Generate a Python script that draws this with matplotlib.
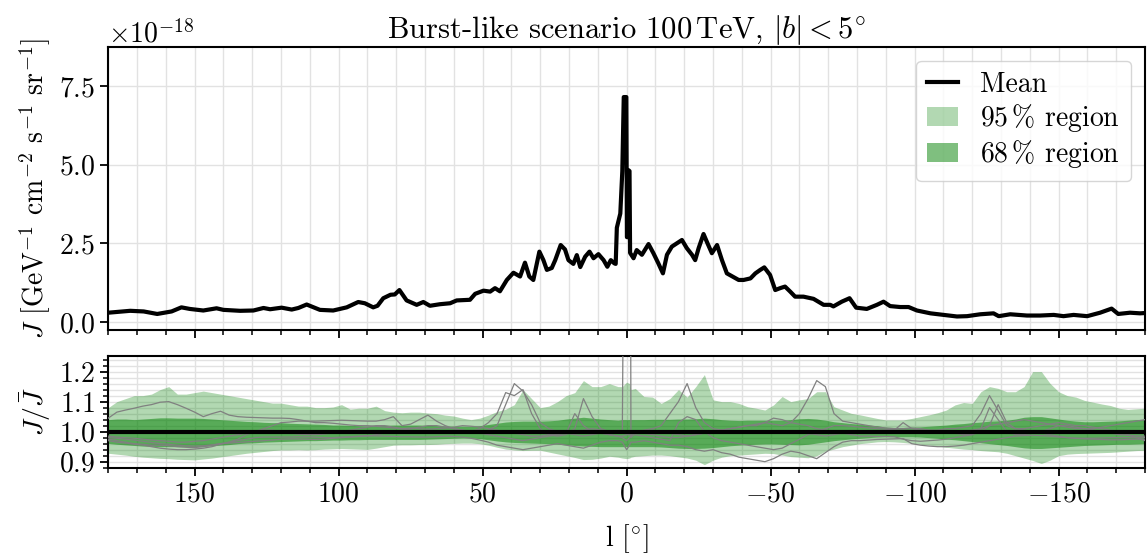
import numpy as np
import matplotlib
matplotlib.use("Agg")
import matplotlib.pyplot as plt
from matplotlib.patches import Patch
from matplotlib.lines import Line2D
from matplotlib.ticker import MultipleLocator

plt.rcParams.update({
    "font.family": "serif",
    "font.serif": ["cmr10"],
    "mathtext.fontset": "cm",
    "axes.formatter.use_mathtext": True,
    "font.size": 20,
    "axes.linewidth": 1.5,
    "xtick.major.width": 1.3,
    "ytick.major.width": 1.3,
    "xtick.minor.width": 1.1,
    "ytick.minor.width": 1.1,
    "xtick.major.size": 6,
    "ytick.major.size": 6,
    "xtick.minor.size": 3.5,
    "ytick.minor.size": 3.5,
})

UNIT = 1e-18

# ---- mean flux along the plane (units of 1e-18 GeV^-1 cm^-2 s^-1 sr^-1)
l_mean = [180, 176, 172.4, 167.7, 163, 158, 154.6, 151.7, 147, 142.4,
          140, 134.2, 129.6, 126.1, 123.8, 119.8, 116.3, 114, 111.1, 106.5,
          101.9, 97.2, 93.2, 90.9, 88, 86.5, 84.5, 82, 80.5, 78.9,
          76.4, 72.9, 70.6, 68.3, 64.8, 61.3, 59, 54.4, 52.6, 49.7,
          47.4, 45.7, 44, 41.6, 39.3, 37, 35.3, 33.8, 32.4, 30.3,
          28.9, 27.7, 26, 24.8, 22.9, 21.4, 20.2, 18.5, 17.3, 16.1,
          14.4, 12.9, 11.5, 9.8, 8, 6.7, 5.5, 4.3, 3.8, 3.4,
          2.2, 1.5, 1.0, 0.1, -0.1, -0.5, -0.6, -1.0, -1.2, -2.4,
          -3.5, -5.3, -7.6, -9.3, -11, -12.6, -14, -15.7, -17.4, -19.2,
          -20.9, -22.7, -23.8, -25, -26.7, -28.1, -29.6, -31.4, -33.1, -34.8,
          -37.1, -38.9, -40.6, -43, -44.7, -46.4, -47.8, -49.8, -51.6, -53.3,
          -55, -56.8, -58.5, -61.4, -64.9, -68.4, -70.7, -71.8, -74.7, -77.4,
          -79.7, -83.4, -86.9, -89.2, -91.5, -95, -97.9, -100.8, -105.5, -110,
          -114.7, -118.2, -122.8, -127.4, -129.2, -133.2, -139, -143.6, -148.3, -151.7,
          -155.2, -159.9, -164.4, -168.4, -170.7, -174.8, -178.3, -180]
J_mean = [0.30, 0.33, 0.36, 0.34, 0.26, 0.34, 0.47, 0.42, 0.37, 0.44,
          0.39, 0.36, 0.37, 0.45, 0.41, 0.46, 0.40, 0.45, 0.56, 0.39,
          0.37, 0.47, 0.64, 0.60, 0.47, 0.52, 0.76, 0.87, 0.88, 1.02,
          0.69, 0.55, 0.64, 0.52, 0.57, 0.60, 0.69, 0.71, 0.90, 1.00,
          0.97, 1.08, 0.98, 1.34, 1.57, 1.45, 1.89, 1.45, 1.34, 2.24,
          1.97, 1.66, 1.72, 1.97, 2.45, 2.31, 1.97, 1.85, 2.13, 1.75,
          2.08, 2.24, 2.03, 2.16, 1.97, 1.76, 1.97, 1.87, 1.85, 3.00,
          3.45, 4.80, 7.15, 7.15, 2.70, 2.70, 4.83, 4.80, 2.20, 2.03,
          2.29, 2.14, 2.48, 2.19, 1.87, 1.55, 2.14, 2.40, 2.50, 2.61,
          2.35, 2.14, 1.97, 2.35, 2.80, 2.50, 2.19, 2.45, 1.97, 1.55,
          1.43, 1.34, 1.34, 1.39, 1.55, 1.66, 1.74, 1.50, 1.02, 1.08,
          1.13, 0.97, 0.81, 0.81, 0.74, 0.55, 0.55, 0.50, 0.65, 0.76,
          0.46, 0.42, 0.55, 0.65, 0.51, 0.48, 0.48, 0.37, 0.28, 0.23,
          0.18, 0.19, 0.25, 0.28, 0.19, 0.25, 0.21, 0.21, 0.23, 0.19,
          0.23, 0.19, 0.30, 0.43, 0.26, 0.30, 0.28, 0.29]

# ---- ratio to the mean, on a common longitude grid
l_band = np.concatenate([np.arange(180, 0, -3), [1.5, 0, -1, -1.5], np.arange(-3, -181, -3)])

hi95 = [1.08, 1.10, 1.11, 1.12, 1.12, 1.125, 1.14, 1.15, 1.125, 1.125,
        1.13, 1.135, 1.13, 1.125, 1.12, 1.115, 1.11, 1.105, 1.10, 1.095,
        1.095, 1.09, 1.085, 1.085, 1.08, 1.08, 1.082, 1.09, 1.075, 1.078,
        1.078, 1.085, 1.07, 1.065, 1.063, 1.065, 1.065, 1.062, 1.06, 1.055,
        1.052, 1.045, 1.04, 1.045, 1.055, 1.067, 1.075, 1.09, 1.14, 1.11,
        1.08, 1.085, 1.10, 1.12, 1.13, 1.17, 1.15, 1.15, 1.16, 1.15,
        1.15, 1.165, 1.16, 1.14,
        1.144, 1.117, 1.115, 1.094, 1.11, 1.14, 1.115, 1.15, 1.19, 1.106,
        1.10, 1.10, 1.094, 1.083, 1.078, 1.072, 1.089, 1.117, 1.10, 1.106,
        1.11, 1.133, 1.133, 1.083, 1.072, 1.061, 1.056, 1.05, 1.044, 1.039,
        1.039, 1.039, 1.044, 1.05, 1.056, 1.063, 1.072, 1.089, 1.097, 1.094,
        1.133, 1.15, 1.144, 1.133, 1.133, 1.15, 1.20, 1.20, 1.161, 1.133,
        1.12, 1.115, 1.104, 1.098, 1.092, 1.087, 1.078, 1.074, 1.076, 1.078]
lo95 = [0.928, 0.925, 0.922, 0.918, 0.915, 0.913, 0.911, 0.91, 0.908, 0.907,
        0.906, 0.909, 0.912, 0.916, 0.92, 0.924, 0.928, 0.931, 0.934, 0.937,
        0.939, 0.939, 0.94, 0.939, 0.94, 0.942, 0.943, 0.944, 0.943, 0.942,
        0.941, 0.945, 0.95, 0.955, 0.956, 0.956, 0.957, 0.957, 0.958, 0.96,
        0.961, 0.962, 0.962, 0.96, 0.955, 0.948, 0.942, 0.939, 0.937, 0.938,
        0.938, 0.932, 0.926, 0.92, 0.914, 0.907, 0.908, 0.912, 0.918, 0.915,
        0.912, 0.91, 0.912, 0.915,
        0.918, 0.92, 0.922, 0.922, 0.92, 0.916, 0.912, 0.905, 0.89, 0.905,
        0.915, 0.92, 0.922, 0.924, 0.926, 0.928, 0.927, 0.922, 0.917, 0.915,
        0.913, 0.92, 0.935, 0.942, 0.95, 0.955, 0.96, 0.963, 0.966, 0.967,
        0.966, 0.964, 0.961, 0.958, 0.955, 0.952, 0.948, 0.945, 0.942, 0.94,
        0.937, 0.935, 0.933, 0.928, 0.92, 0.912, 0.904, 0.894, 0.905, 0.92,
        0.925, 0.927, 0.928, 0.929, 0.93, 0.931, 0.933, 0.935, 0.937, 0.938]
hi68 = [1.04, 1.042, 1.042, 1.04, 1.042, 1.044, 1.046, 1.046, 1.045, 1.045,
        1.045, 1.044, 1.042, 1.04, 1.038, 1.036, 1.034, 1.033, 1.031, 1.03,
        1.03, 1.028, 1.027, 1.026, 1.025, 1.024, 1.022, 1.022, 1.021, 1.02,
        1.019, 1.02, 1.021, 1.022, 1.022, 1.022, 1.022, 1.021, 1.02, 1.019,
        1.018, 1.018, 1.018, 1.02, 1.024, 1.028, 1.032, 1.034, 1.035, 1.035,
        1.035, 1.036, 1.038, 1.042, 1.045, 1.048, 1.045, 1.042, 1.04, 1.038,
        1.04, 1.04, 1.04, 1.04,
        1.04, 1.04, 1.041, 1.041, 1.041, 1.042, 1.042, 1.043, 1.045, 1.043,
        1.04, 1.038, 1.037, 1.038, 1.038, 1.038, 1.038, 1.038, 1.04, 1.043,
        1.044, 1.042, 1.038, 1.033, 1.03, 1.027, 1.025, 1.022, 1.02, 1.015,
        1.014, 1.014, 1.015, 1.016, 1.018, 1.02, 1.022, 1.025, 1.027, 1.03,
        1.032, 1.035, 1.036, 1.038, 1.042, 1.048, 1.05, 1.05, 1.046, 1.042,
        1.038, 1.035, 1.033, 1.033, 1.034, 1.035, 1.036, 1.038, 1.04, 1.04]
lo68 = [0.961, 0.958, 0.956, 0.954, 0.952, 0.951, 0.95, 0.95, 0.95, 0.95,
        0.95, 0.951, 0.953, 0.955, 0.957, 0.96, 0.962, 0.963, 0.965, 0.966,
        0.967, 0.968, 0.969, 0.97, 0.97, 0.971, 0.972, 0.972, 0.973, 0.973,
        0.974, 0.974, 0.974, 0.974, 0.974, 0.974, 0.974, 0.975, 0.976, 0.977,
        0.978, 0.979, 0.979, 0.977, 0.973, 0.969, 0.966, 0.964, 0.963, 0.962,
        0.961, 0.96, 0.958, 0.956, 0.954, 0.952, 0.951, 0.95, 0.95, 0.95,
        0.95, 0.95, 0.95, 0.95,
        0.95, 0.95, 0.95, 0.949, 0.947, 0.945, 0.944, 0.944, 0.945, 0.947,
        0.95, 0.953, 0.955, 0.957, 0.958, 0.959, 0.959, 0.958, 0.957, 0.956,
        0.958, 0.962, 0.966, 0.97, 0.973, 0.976, 0.978, 0.98, 0.982, 0.983,
        0.983, 0.983, 0.983, 0.982, 0.98, 0.978, 0.975, 0.973, 0.97, 0.967,
        0.963, 0.96, 0.957, 0.954, 0.95, 0.946, 0.944, 0.944, 0.946, 0.948,
        0.95, 0.952, 0.954, 0.955, 0.956, 0.957, 0.958, 0.958, 0.959, 0.96]

# individual realisations, ratio to the mean
sample_1 = [1.045, 1.065, 1.072, 1.078, 1.085, 1.09, 1.098, 1.10, 1.09, 1.078,
            1.065, 1.05, 1.06, 1.068, 1.055, 1.05, 1.048, 1.047, 1.046, 1.045,
            1.045, 1.044, 1.04, 1.035, 1.03, 1.03, 1.028, 1.025, 1.022, 1.02,
            1.02, 1.018, 1.015, 1.012, 1.01, 1.012, 1.01, 1.008, 1.01, 1.012,
            1.015, 1.02, 1.018, 1.015, 1.01, 1.005, 1.0, 0.995, 0.99, 0.985,
            0.985, 0.99, 0.99, 0.995, 0.99, 0.985, 0.99, 0.995, 0.99, 0.985,
            0.985, 0.99, 0.99, 0.99,
            0.995, 1.0, 1.005, 1.0, 0.995, 0.99, 0.985, 0.99, 0.995, 1.0,
            1.005, 1.01, 1.015, 1.02, 1.025, 1.03, 1.025, 1.02, 1.03, 1.06,
            1.11, 1.17, 1.15, 1.06, 1.035, 1.03, 1.025, 1.02, 1.015, 1.012,
            1.01, 1.01, 1.012, 1.01, 1.005, 1.0, 1.0, 1.0, 1.002, 1.005,
            1.01, 1.02, 1.025, 1.03, 1.035, 1.04, 1.035, 1.03, 1.025, 1.02,
            1.02, 1.015, 1.01, 1.01, 1.015, 1.02, 1.025, 1.03, 1.035, 1.04]
sample_2 = [0.97, 0.965, 0.962, 0.958, 0.955, 0.95, 0.945, 0.942, 0.94, 0.94,
            0.942, 0.945, 0.95, 0.958, 0.965, 0.975, 0.99, 1.0, 1.01, 1.02,
            1.03, 1.032, 1.035, 1.035, 1.035, 1.036, 1.037, 1.038, 1.037, 1.036,
            1.035, 1.035, 1.04, 1.05, 1.02, 1.025, 1.04, 1.055, 1.035, 1.02,
            1.01, 1.005, 1.0, 1.0, 1.005, 1.02, 1.09, 1.16, 1.135, 1.09,
            1.03, 1.01, 1.0, 0.995, 1.0, 1.005, 1.01, 1.005, 1.0, 1.0,
            1.0, 1.0, 1.0, 1.0,
            1.0, 1.005, 1.01, 1.02, 1.06, 1.10, 1.16, 1.08, 1.03, 1.01,
            1.005, 1.0, 1.0, 1.0, 1.0, 1.0, 1.0, 1.0, 1.0, 1.0,
            0.995, 0.99, 0.985, 0.99, 0.995, 1.0, 1.0, 1.0, 1.0, 1.002,
            1.005, 1.03, 1.01, 1.005, 1.005, 1.005, 1.01, 1.01, 1.015, 1.02,
            1.06, 1.12, 1.07, 1.02, 1.01, 1.01, 1.015, 1.02, 1.025, 1.03,
            1.025, 1.02, 1.02, 1.015, 1.01, 1.005, 1.0, 0.99, 0.98, 0.97]
sample_3 = [0.975, 0.97, 0.965, 0.96, 0.958, 0.955, 0.955, 0.953, 0.95, 0.948,
            0.947, 0.95, 0.955, 0.96, 0.965, 0.97, 0.975, 0.98, 0.982, 0.982,
            0.982, 0.982, 0.983, 0.983, 0.982, 0.98, 0.98, 0.982, 0.983, 0.985,
            0.987, 0.986, 0.985, 0.984, 0.983, 0.983, 0.982, 0.982, 0.983, 0.985,
            0.984, 0.982, 0.978, 0.972, 0.965, 0.955, 0.95, 0.945, 0.94, 0.945,
            0.95, 0.955, 0.96, 0.955, 0.95, 0.945, 0.955, 0.965, 0.97, 0.97,
            0.965, 0.94, 0.955, 0.965,
            0.965, 0.97, 0.965, 0.96, 0.955, 0.955, 0.95, 0.94, 0.935, 0.94,
            0.93, 0.925, 0.915, 0.91, 0.905, 0.90, 0.91, 0.925, 0.935, 0.93,
            0.92, 0.91, 0.93, 0.95, 0.965, 0.97, 0.97, 0.972, 0.974, 0.975,
            0.976, 0.977, 0.96, 0.955, 0.952, 0.95, 0.95, 0.952, 0.955, 0.96,
            0.965, 0.97, 0.975, 0.98, 0.985, 0.987, 0.988, 0.987, 0.985, 0.982,
            0.98, 0.978, 0.976, 0.975, 0.974, 0.973, 0.973, 0.974, 0.975, 0.975]
sample_4 = [0.985, 0.982, 0.98, 0.978, 0.975, 0.972, 0.97, 0.968, 0.965, 0.965,
            0.968, 0.97, 0.975, 0.98, 0.985, 0.99, 0.995, 1.0, 1.005, 1.005,
            1.0, 0.995, 0.992, 0.99, 0.99, 0.992, 0.995, 1.0, 1.005, 1.01,
            1.015, 1.02, 1.02, 1.015, 1.01, 1.005, 1.0, 0.998, 0.996, 0.995,
            0.995, 0.998, 1.0, 1.01, 1.03, 1.06, 1.13, 1.12, 1.14, 1.06,
            1.01, 0.99, 0.985, 0.99, 1.01, 1.11, 1.05, 1.01, 1.0, 1.005,
            1.0, 3.0, 3.0, 0.98,
            1.0, 0.995, 0.99, 0.985, 0.98, 0.98, 0.985, 0.99, 0.995, 1.0,
            1.005, 1.01, 1.015, 1.02, 1.02, 1.03, 1.045, 1.04, 1.03, 1.025,
            1.02, 1.01, 1.005, 1.0, 0.995, 0.99, 0.985, 0.985, 0.984, 0.984,
            0.983, 0.975, 0.97, 0.968, 0.97, 0.972, 0.975, 0.98, 0.985, 0.99,
            1.01, 1.08, 1.04, 1.0, 0.99, 0.99, 0.995, 1.0, 1.01, 1.02,
            1.015, 1.01, 1.01, 1.005, 1.0, 0.995, 0.99, 0.988, 0.986, 0.985]
sample_5 = [0.98, 0.978, 0.975, 0.972, 0.968, 0.964, 0.96, 0.958, 0.955, 0.953,
            0.952, 0.953, 0.956, 0.96, 0.962, 0.964, 0.966, 0.968, 0.97, 0.972,
            0.975, 0.976, 0.976, 0.975, 0.974, 0.975, 0.978, 0.98, 0.982, 0.984,
            0.985, 0.99, 0.995, 1.0, 1.005, 1.01, 1.015, 1.02, 1.02, 1.015,
            1.01, 1.005, 1.0, 0.995, 0.99, 0.985, 0.98, 0.975, 0.97, 0.975,
            0.98, 0.985, 0.99, 0.995, 1.06, 1.02, 1.0, 0.995, 0.99, 0.985,
            0.98, 0.97, 0.98, 0.985,
            0.99, 0.985, 0.98, 0.975, 0.97, 1.03, 1.05, 1.04, 1.0, 0.98,
            0.97, 0.965, 0.96, 0.955, 0.95, 0.945, 0.94, 0.945, 0.96, 0.975,
            0.99, 1.0, 1.01, 1.02, 1.02, 1.018, 1.015, 1.012, 1.01, 1.008,
            1.006, 1.005, 1.004, 1.003, 1.002, 1.0, 0.998, 0.995, 0.99, 0.99,
            1.0, 1.02, 1.09, 1.03, 1.01, 1.005, 1.0, 0.995, 0.99, 0.985,
            0.98, 0.978, 0.978, 0.978, 0.979, 0.98, 0.98, 0.98, 0.98, 0.98]
samples = [sample_1, sample_2, sample_3, sample_4, sample_5]

x_ticks = [150, 100, 50, 0, -50, -100, -150]

fig = plt.figure(figsize=(11.48, 5.54), dpi=100)
ax_top = fig.add_axes([0.0943, 0.4043, 0.9031, 0.5114])
ax_bot = fig.add_axes([0.0943, 0.1547, 0.9031, 0.2033], sharex=ax_top)

light = dict(color="green", alpha=0.3, linewidth=0)
dark = dict(color="green", alpha=0.5, linewidth=0)

# top panel: mean flux
ax_top.plot(l_mean, np.array(J_mean) * UNIT, color="black", lw=3, zorder=5)
ax_top.set_ylim(-0.25 * UNIT, 8.75 * UNIT)
ax_top.yaxis.set_major_locator(MultipleLocator(2.5 * UNIT))
ax_top.set_ylabel(r"$J$ [GeV$^{-1}$ cm$^{-2}$ s$^{-1}$ sr$^{-1}$]")
ax_top.set_title(r"Burst-like scenario 100$\,$TeV, $|b| < 5^{\circ}$", fontsize=22, pad=6)
ax_top.tick_params(labelbottom=False)

handles = [Line2D([], [], color="black", lw=3),
           Patch(**light), Patch(**dark)]
ax_top.legend(handles, ["Mean", r"95$\,$% region", r"68$\,$% region"],
              loc="upper right", handlelength=1.1, fontsize=20,
              borderpad=0.4, labelspacing=0.15, handletextpad=0.8)

# bottom panel: ratio to mean
ax_bot.fill_between(l_band, lo95, hi95, **light)
ax_bot.fill_between(l_band, lo68, hi68, **dark)
for s in samples:
    ax_bot.plot(l_band, s, color="gray", lw=0.9, zorder=3)
ax_bot.axhline(1.0, color="black", lw=3, zorder=5)
ax_bot.set_ylim(0.878, 1.253)
ax_bot.yaxis.set_major_locator(MultipleLocator(0.1))
ax_bot.yaxis.set_minor_locator(MultipleLocator(0.02))
ax_bot.set_ylabel(r"$J/\bar{J}$")
ax_bot.set_xlabel(r"l [$^{\circ}$]", labelpad=10)

for ax in (ax_top, ax_bot):
    ax.set_xlim(180, -180)
    ax.set_xticks(x_ticks)
    ax.xaxis.set_minor_locator(MultipleLocator(10))
    ax.set_axisbelow(True)
    ax.grid(which="major", color="#e2e2e2", lw=1.0)
    ax.grid(which="minor", axis="x", color="#e2e2e2", lw=1.0)
ax_bot.grid(which="minor", axis="y", color="#e2e2e2", lw=1.0)

fig.align_ylabels([ax_top, ax_bot])
fig.savefig("out.png", dpi=100)
